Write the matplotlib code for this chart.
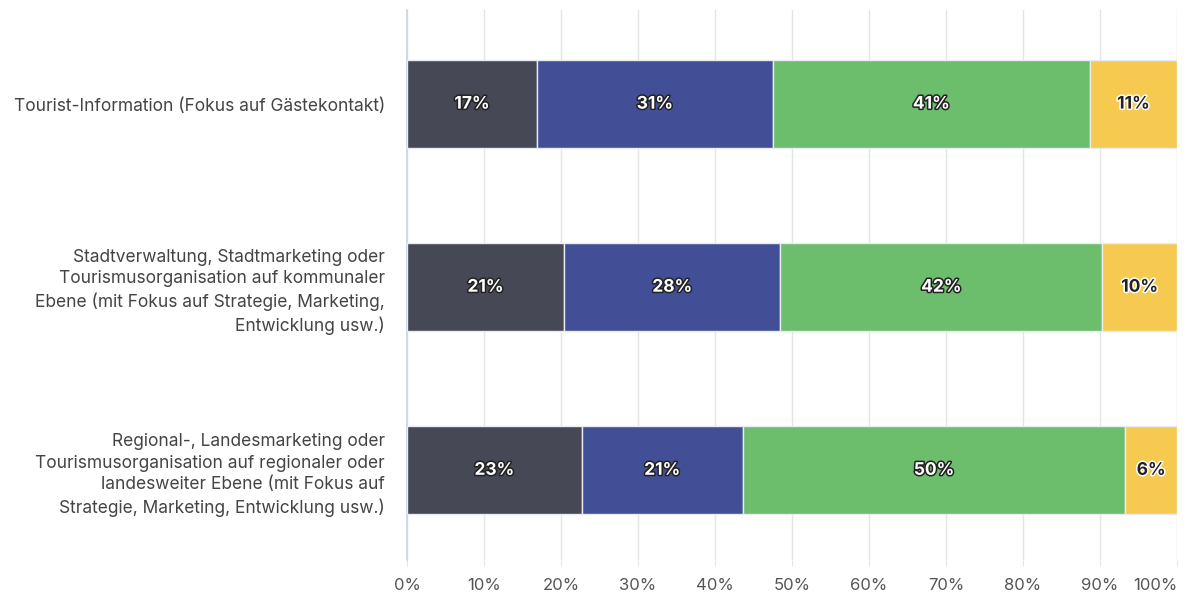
import matplotlib
matplotlib.use("Agg")
import matplotlib.pyplot as plt
import matplotlib.patheffects as pe

plt.rcParams['font.family'] = ['Inter', 'DejaVu Sans']

categories = [
    "Tourist-Information (Fokus auf Gästekontakt)",
    "Stadtverwaltung, Stadtmarketing oder\nTourismusorganisation auf kommunaler\nEbene (mit Fokus auf Strategie, Marketing,\nEntwicklung usw.)",
    "Regional-, Landesmarketing oder\nTourismusorganisation auf regionaler oder\nlandesweiter Ebene (mit Fokus auf\nStrategie, Marketing, Entwicklung usw.)",
]
# segment widths and printed labels
seg1 = [16.9, 20.4, 22.7]
seg2 = [30.6, 28.1, 20.9]
seg3 = [41.2, 41.8, 49.7]
seg4 = [11.3, 9.7, 6.7]
lab1 = ["17%", "21%", "23%"]
lab2 = ["31%", "28%", "21%"]
lab3 = ["41%", "42%", "50%"]
lab4 = ["11%", "10%", "6%"]
colors = ["#464855", "#424f97", "#6cbd6c", "#f6ca51"]
xticks = [0, 10, 20, 30, 40, 50, 60, 70, 80, 90, 100]

fig = plt.figure(figsize=(11.88, 5.94), dpi=100)
ax = fig.add_axes([407/1188, 1 - 560/594, 770/1188, 550/594])

ypos = list(range(len(categories)))
left = [0] * len(categories)
for vals, labs, col in zip([seg1, seg2, seg3, seg4], [lab1, lab2, lab3, lab4], colors):
    ax.barh(ypos, vals, left=left, height=0.48, color=col,
            edgecolor="#e8ebf0", linewidth=1.0, zorder=3)
    dark = col != "#f6ca51"
    for y, v, l, lb in zip(ypos, vals, left, labs):
        ax.text(l + v / 2, y, lb, ha="center", va="center", fontsize=12.5,
                fontweight="bold", color="white" if dark else "#222222", zorder=4,
                path_effects=[pe.withStroke(linewidth=2.2,
                                            foreground="#222222" if dark else "white")])
    left = [a + b for a, b in zip(left, vals)]

ax.set_xlim(0, 100)
ax.set_ylim(2.49, -0.514)
ax.set_xticks(xticks)
ax.set_xticklabels([f"{t}%" for t in xticks], fontsize=12, color="#555555")
ax.get_xticklabels()[-1].set_ha("right")
ax.get_xticklabels()[-1].set_x(100)
ax.set_yticks(ypos)
ax.set_yticklabels(categories, fontsize=12.5, color="#444444", linespacing=1.35)
ax.tick_params(axis="x", length=4, color="#e4e4e4", pad=9)
ax.tick_params(axis="y", length=0, pad=16)
ax.grid(axis="x", color="#e4e4e4", linewidth=1, zorder=0)
for s in ["top", "right", "bottom"]:
    ax.spines[s].set_visible(False)
ax.spines["left"].set_color("#c8d5e8")
ax.spines["left"].set_linewidth(1.2)

plt.savefig("out.png", dpi=100)
